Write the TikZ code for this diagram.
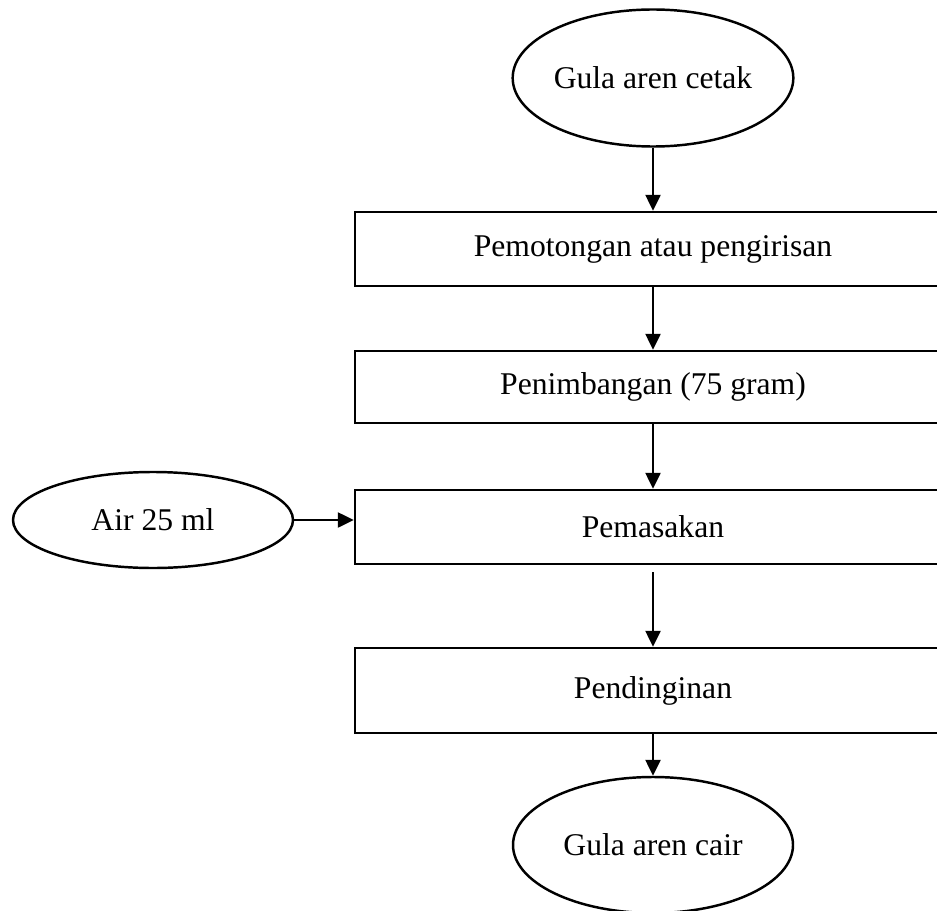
\documentclass[tikz,border=0pt]{standalone}
\usepackage{fontspec}
\setmainfont{Liberation Serif}
\usetikzlibrary{arrows.meta,positioning,shapes.geometric}

\begin{document}
\begin{tikzpicture}[x=1cm, y=1cm, line width=1.4pt,
    every node/.style={font=\fontsize{18}{21}\selectfont},
    proses/.style={draw, rectangle, minimum width=11.92cm, inner sep=0pt},
    terminal/.style={draw, ellipse, inner sep=0pt},
    panah/.style={-{Triangle[length=0.32cm,width=0.3cm]}}]
        \useasboundingbox (0,0) rectangle (18.74,18.2);
        \clip (0,0) rectangle (18.74,18.2);
        % alur utama
        \node[terminal, minimum width=5.6cm, minimum height=2.74cm] (cetak) at (13.06,16.64) {Gula aren cetak};
        \node[proses, minimum height=1.48cm] (potong) at (13.06,13.22) {Pemotongan atau pengirisan};
        \node[proses, minimum height=1.44cm] (timbang) at (13.06,10.46) {Penimbangan (75 gram)};
        \node[proses, minimum height=1.48cm] (masak) at (13.06,7.66) {Pemasakan};
        \node[proses, minimum height=1.7cm] (dingin) at (13.06,4.39) {Pendinginan};
        \node[terminal, minimum width=5.6cm, minimum height=2.72cm] (cair) at (13.06,1.3) {Gula aren cair};
        % bahan tambahan
        \node[terminal, minimum width=5.6cm, minimum height=1.92cm] (air) at (3.06,7.8) {Air 25 ml};
        \draw[panah] (cetak) -- (potong);
        \draw[panah] (potong) -- (timbang);
        \draw[panah] (timbang) -- (masak);
        \draw[panah, shorten <=0.14cm] (masak) -- (dingin);
        \draw[panah] (dingin) -- (cair);
        \draw[panah] (air) -- (air -| masak.west);
      \end{tikzpicture}
\end{document}
